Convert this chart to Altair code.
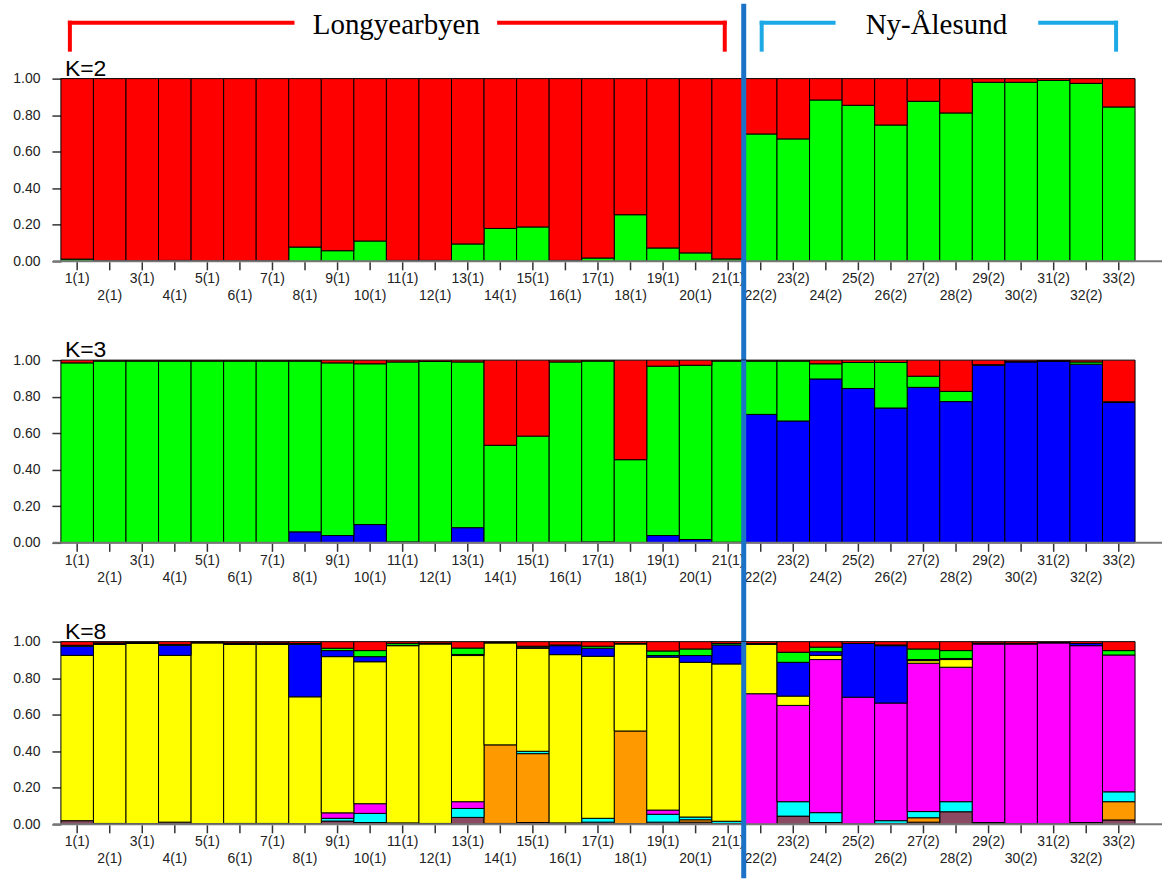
import altair as alt
import pandas as pd

# Individuals (population in brackets): 1 = Longyearbyen, 2 = Ny-Ålesund
individuals = [
    "1(1)", "2(1)", "3(1)", "4(1)", "5(1)", "6(1)", "7(1)", "8(1)", "9(1)", "10(1)",
    "11(1)", "12(1)", "13(1)", "14(1)", "15(1)", "16(1)", "17(1)", "18(1)", "19(1)",
    "20(1)", "21(1)", "22(2)", "23(2)", "24(2)", "25(2)", "26(2)", "27(2)", "28(2)",
    "29(2)", "30(2)", "31(2)", "32(2)", "33(2)",
]

# K=2 membership coefficients
k2_green = [0.012, 0.003, 0.003, 0.005, 0.003, 0.003, 0.003, 0.078, 0.058, 0.111, 0.005,
            0.005, 0.095, 0.180, 0.188, 0.005, 0.018, 0.255, 0.073, 0.046, 0.013, 0.697,
            0.670, 0.883, 0.854, 0.746, 0.876, 0.812, 0.980, 0.980, 0.990, 0.974, 0.845]
k2_red = [0.988, 0.997, 0.997, 0.995, 0.997, 0.997, 0.997, 0.922, 0.942, 0.889, 0.995,
          0.995, 0.905, 0.820, 0.812, 0.995, 0.982, 0.745, 0.927, 0.954, 0.987, 0.303,
          0.330, 0.117, 0.146, 0.254, 0.124, 0.188, 0.020, 0.020, 0.010, 0.026, 0.155]

# K=3 membership coefficients
k3_blue = [0.000, 0.000, 0.000, 0.000, 0.000, 0.000, 0.000, 0.060, 0.040, 0.100, 0.005,
           0.003, 0.083, 0.002, 0.002, 0.003, 0.005, 0.002, 0.040, 0.018, 0.003, 0.703,
           0.667, 0.897, 0.845, 0.738, 0.851, 0.773, 0.972, 0.990, 0.995, 0.978, 0.768]
k3_green = [0.985, 0.995, 0.995, 0.995, 0.995, 0.995, 0.995, 0.935, 0.945, 0.880, 0.985,
            0.990, 0.907, 0.532, 0.582, 0.987, 0.990, 0.453, 0.927, 0.954, 0.992, 0.292,
            0.328, 0.083, 0.142, 0.249, 0.061, 0.056, 0.003, 0.002, 0.001, 0.012, 0.004]
k3_red = [0.015, 0.005, 0.005, 0.005, 0.005, 0.005, 0.005, 0.005, 0.015, 0.020, 0.010,
          0.007, 0.010, 0.466, 0.416, 0.010, 0.005, 0.545, 0.033, 0.028, 0.005, 0.005,
          0.005, 0.020, 0.013, 0.013, 0.088, 0.171, 0.025, 0.008, 0.004, 0.010, 0.228]

# K=8 membership coefficients
k8_brown = [0.020, 0.005, 0.003, 0.012, 0.003, 0.005, 0.005, 0.003, 0.018, 0.010, 0.008,
            0.005, 0.038, 0.005, 0.010, 0.008, 0.012, 0.003, 0.012, 0.012, 0.005, 0.000,
            0.045, 0.010, 0.002, 0.005, 0.012, 0.069, 0.005, 0.003, 0.002, 0.010, 0.024]
k8_orange = [0.000, 0.000, 0.000, 0.000, 0.000, 0.000, 0.000, 0.000, 0.000, 0.000, 0.000,
             0.000, 0.000, 0.430, 0.377, 0.000, 0.000, 0.508, 0.000, 0.013, 0.000, 0.000,
             0.000, 0.000, 0.000, 0.000, 0.024, 0.000, 0.005, 0.000, 0.000, 0.000, 0.100]
k8_cyan = [0.000, 0.000, 0.000, 0.000, 0.000, 0.000, 0.000, 0.000, 0.015, 0.050, 0.000,
           0.000, 0.049, 0.000, 0.013, 0.000, 0.021, 0.000, 0.043, 0.015, 0.012, 0.000,
           0.079, 0.054, 0.000, 0.015, 0.034, 0.055, 0.000, 0.000, 0.000, 0.000, 0.054]
k8_magenta = [0.000, 0.000, 0.000, 0.000, 0.000, 0.000, 0.000, 0.000, 0.030, 0.053, 0.000,
              0.000, 0.037, 0.000, 0.000, 0.000, 0.000, 0.000, 0.023, 0.000, 0.000, 0.715,
              0.527, 0.838, 0.694, 0.644, 0.812, 0.736, 0.977, 0.984, 0.991, 0.968, 0.749]
k8_yellow = [0.905, 0.980, 0.987, 0.913, 0.990, 0.980, 0.980, 0.695, 0.855, 0.777, 0.970,
             0.982, 0.800, 0.558, 0.564, 0.921, 0.887, 0.476, 0.837, 0.847, 0.861, 0.270,
             0.051, 0.023, 0.000, 0.000, 0.014, 0.042, 0.000, 0.000, 0.000, 0.000, 0.000]
k8_blue = [0.050, 0.005, 0.003, 0.055, 0.002, 0.005, 0.005, 0.287, 0.033, 0.028, 0.002,
           0.003, 0.006, 0.002, 0.006, 0.049, 0.044, 0.003, 0.009, 0.037, 0.104, 0.005,
           0.185, 0.020, 0.294, 0.314, 0.006, 0.006, 0.003, 0.004, 0.002, 0.012, 0.000]
k8_green = [0.005, 0.003, 0.002, 0.005, 0.002, 0.003, 0.003, 0.005, 0.013, 0.033, 0.011,
            0.002, 0.035, 0.000, 0.005, 0.004, 0.011, 0.000, 0.025, 0.036, 0.008, 0.000,
            0.055, 0.025, 0.000, 0.004, 0.058, 0.043, 0.002, 0.000, 0.000, 0.000, 0.024]
k8_red = [0.020, 0.007, 0.005, 0.015, 0.003, 0.007, 0.007, 0.010, 0.036, 0.049, 0.009,
          0.008, 0.035, 0.005, 0.025, 0.018, 0.025, 0.010, 0.051, 0.040, 0.010, 0.010,
          0.058, 0.030, 0.010, 0.018, 0.040, 0.049, 0.008, 0.009, 0.005, 0.010, 0.049]

cluster_names = ["brown", "orange", "cyan", "magenta", "yellow", "blue", "green", "red"]
cluster_colors = ["#8B4A62", "#FF9900", "#00FFFF", "#FF00FF", "#FFFF00", "#0000FF", "#00FF00", "#FF0000"]

W = 1076
H = 183
GAP = 99
SPLIT_X = 684          # boundary between the two populations
DIVIDER = "#1B72C6"
LABEL_FONT = "Liberation Sans"

one = pd.DataFrame({"k": [0]})


def long_table(clusters):
    rows = []
    for pos, (name, vals) in enumerate(clusters):
        for ind, v in zip(individuals, vals):
            rows.append({"ind": ind, "cluster": name, "pos": pos, "q": v})
    return pd.DataFrame(rows)


def panel(k_text, clusters, div_top, div_bottom, extra=()):
    df = long_table(clusters)
    bars = alt.Chart(df).transform_filter("datum.q > 0").mark_bar(
        stroke="black", strokeWidth=1
    ).encode(
        x=alt.X("ind:N", sort=individuals,
                scale=alt.Scale(paddingInner=0, paddingOuter=0),
                axis=None),
        y=alt.Y("q:Q", stack="zero",
                scale=alt.Scale(domain=[0, 1], nice=False),
                axis=alt.Axis(values=[0, 0.2, 0.4, 0.6, 0.8, 1.0], format=".2f",
                              title=None, domain=False, grid=False, tickSize=9,
                              tickColor="#333", tickWidth=1.5, labelPadding=12,
                              labelFontSize=14, labelColor="#222", labelFont=LABEL_FONT)),
        color=alt.Color("cluster:N",
                        scale=alt.Scale(domain=cluster_names, range=cluster_colors),
                        legend=None),
        order=alt.Order("pos:Q"),
    )

    baseline = alt.Chart(one).mark_rule(color="#777", strokeWidth=2).encode(
        x=alt.value(-8), x2=alt.value(1103), y=alt.value(H)
    )
    anchor = alt.Chart(one).mark_rule(color="white", strokeWidth=1).encode(
        x=alt.value(-60), x2=alt.value(-58), y=alt.value(H)
    )

    lab_df = pd.DataFrame({"ind": individuals, "row": [i % 2 for i in range(len(individuals))]})

    # small tick under each individual
    ticks = alt.Chart(lab_df).mark_rule(color="#333", strokeWidth=1.5).encode(
        x=alt.X("ind:N", sort=individuals, axis=None),
        y=alt.value(H + 1),
        y2=alt.value(H + 9),
    )

    labels = []
    for row, dy in ((0, 18), (1, 35)):
        labels.append(
            alt.Chart(lab_df).transform_filter(f"datum.row == {row}").mark_text(
                font=LABEL_FONT, fontSize=14, color="#222", baseline="middle", align="center"
            ).encode(
                x=alt.X("ind:N", sort=individuals, axis=None),
                y=alt.value(H + dy),
                text="ind:N",
            )
        )

    k_label = alt.Chart(one).mark_text(
        font=LABEL_FONT, fontSize=23, color="black", align="left", baseline="alphabetic"
    ).encode(x=alt.value(4), y=alt.value(-3), text=alt.value(k_text))

    divider = alt.Chart(one).mark_rule(color=DIVIDER, strokeWidth=5).encode(
        x=alt.value(SPLIT_X), y=alt.value(div_top), y2=alt.value(div_bottom)
    )

    layers = [anchor, bars, baseline, ticks] + labels + [k_label] + list(extra) + [divider]
    return alt.layer(*layers).properties(width=W, height=H)


def hline(x1, x2, y, color):
    return alt.Chart(one).mark_rule(color=color, strokeWidth=4).encode(
        x=alt.value(x1), x2=alt.value(x2), y=alt.value(y)
    )


def vline(x, y1, y2, color):
    return alt.Chart(one).mark_rule(color=color, strokeWidth=4).encode(
        x=alt.value(x), y=alt.value(y1), y2=alt.value(y2)
    )


def title_text(x, label):
    return alt.Chart(one).mark_text(
        font="Liberation Serif", fontSize=29, color="black", align="center", baseline="alphabetic"
    ).encode(x=alt.value(x), y=alt.value(-45), text=alt.value(label))


RED_BR = "#FF0000"
CYAN_BR = "#1CA9E6"
header = [
    hline(7, 234, -56, RED_BR), vline(9, -58, -27, RED_BR),
    hline(437, 667, -56, RED_BR), vline(665, -58, -27, RED_BR),
    title_text(336, "Longyearbyen"),
    hline(700, 776, -56, CYAN_BR), vline(702, -58, -27, CYAN_BR),
    hline(979, 1059, -56, CYAN_BR), vline(1057, -58, -27, CYAN_BR),
    title_text(877, "Ny-Ålesund"),
]

p2 = panel("K=2", [("green", k2_green), ("red", k2_red)], -75, H + GAP, header)
p3 = panel("K=3", [("blue", k3_blue), ("green", k3_green), ("red", k3_red)], 0, H + GAP)
p8 = panel("K=8", [("brown", k8_brown), ("orange", k8_orange), ("cyan", k8_cyan),
                   ("magenta", k8_magenta), ("yellow", k8_yellow), ("blue", k8_blue),
                   ("green", k8_green), ("red", k8_red)], 0, 237)

chart = alt.vconcat(p2, p3, p8, spacing=GAP, bounds="flush").properties(
    padding=0, background="white"
).configure_view(stroke=None)

chart.save("out.html", embed_options={"renderer": "svg", "actions": False})
